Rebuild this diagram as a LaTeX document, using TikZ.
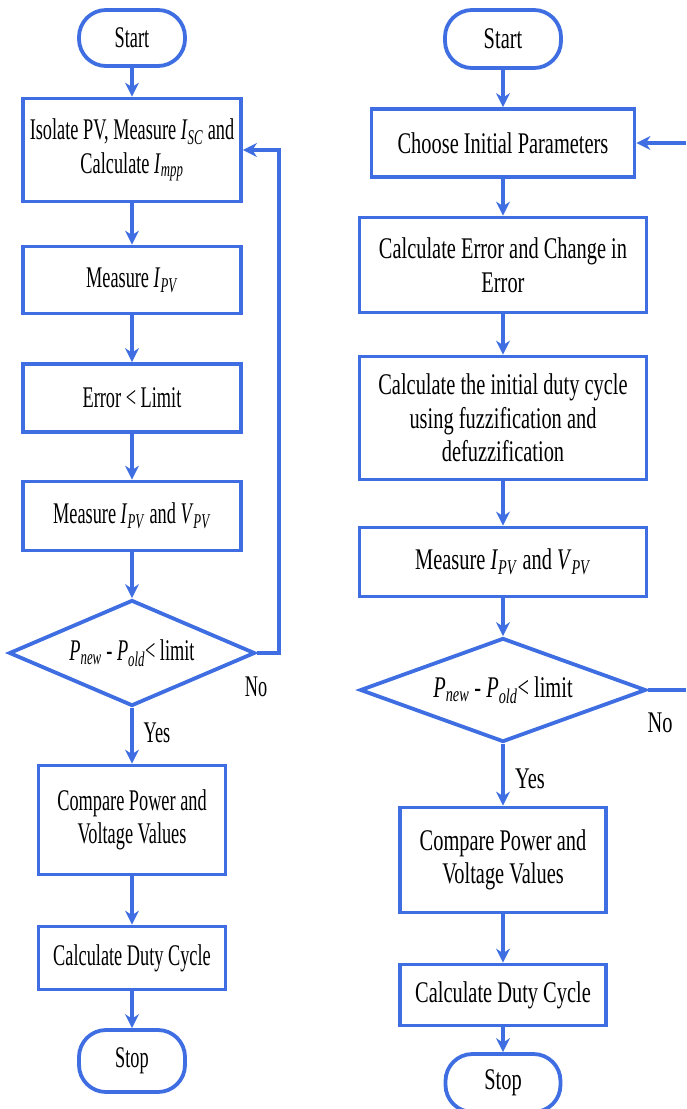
\documentclass[tikz,border=0pt]{standalone}
\usepackage{fontspec}
\setmainfont{Liberation Serif}[FakeStretch=0.68]
\newfontfamily\narrowfont{Liberation Serif}[FakeStretch=0.61]
\usetikzlibrary{shapes.geometric,arrows.meta}
\definecolor{flowblue}{RGB}{62,110,225}
\newcommand{\vsub}[2]{\textit{#1}\textsubscript{\textit{#2}}}

\begin{document}
\begin{tikzpicture}  
  [x=1pt,y=-1pt,
   every node/.style={font=\fontsize{30}{33.5}\selectfont,inner sep=0pt,align=center},
   term/.style={draw=flowblue,line width=3.8pt,rectangle,rounded corners=27pt},
   box/.style={draw=flowblue,line width=3.8pt,rectangle},
   decision/.style={draw=flowblue,line width=3.8pt,diamond,aspect=2.3},
   flow/.style={draw=flowblue,line width=3.3pt,-{Stealth[length=14pt,width=14pt]}},
   line/.style={draw=flowblue,line width=3.3pt}]  

  \clip (0,0) rectangle (686,1109);

  % left chart
  \begin{scope}[every node/.append style={font=\narrowfont\fontsize{30}{33.5}\selectfont}]
  \node[term,minimum width=106pt,minimum height=56pt] (a1) at (132,38) {Start};  
  \node[box,minimum width=218pt,minimum height=103pt] (a2) at (132,150)
    {Isolate PV, Measure \vsub{I}{SC} and\\Calculate \vsub{I}{mpp}}; 
  \node[box,minimum width=218pt,minimum height=67pt] (a3) at (132,280) {Measure \vsub{I}{PV}};  
  \node[box,minimum width=218pt,minimum height=68pt] (a4) at (132,398) {Error < Limit};  
  \node[box,minimum width=218pt,minimum height=69pt] (a5) at (132,516)
    {Measure \vsub{I}{PV} and \vsub{V}{PV}};  
  \node[decision,minimum width=246pt,minimum height=106pt] (a6) at (132,653)
    {\vsub{P}{new} - \vsub{P}{old}< limit};  
  \node[box,minimum width=187pt,minimum height=109pt] (a7) at (132,820)
    {Compare Power and\\Voltage Values};  
  \node[box,minimum width=187pt,minimum height=63pt] (a8) at (132,958) {Calculate Duty Cycle};  
  \node[term,minimum width=106pt,minimum height=62pt] (a9) at (132,1061) {Stop};  
  \node (no1) at (256,687) {No};
  \node (yes1) at (157,733) {Yes};
  \end{scope}

  \draw[flow] (a1) -- (a2); 
  \draw[flow] (a2) -- (a3);  
  \draw[flow] (a3) -- (a4);  
  \draw[flow] (a4) -- (a5);  
  \draw[flow] (a5) -- (a6);  
  \draw[flow] (a6) -- (a7);
  \draw[flow] (a7) -- (a8);
  \draw[flow] (a8) -- (a9);
  \draw[flow] (a6.east) -- ++(22,0) |- (a2.east);

  % right chart
  \node[term,minimum width=116pt,minimum height=58pt] (b1) at (503,39) {Start};  
  \node[box,minimum width=263pt,minimum height=68pt] (b2) at (503,143) {Choose Initial Parameters}; 
  \node[box,minimum width=287pt,minimum height=95pt] (b3) at (503,265)
    {Calculate Error and Change in\\Error};  
  \node[box,minimum width=287pt,minimum height=123pt] (b4) at (503,418)
    {Calculate the initial duty cycle\\using fuzzification and\\defuzzification};  
  \node[box,minimum width=287pt,minimum height=69pt] (b5) at (503,562)
    {Measure \vsub{I}{PV} and \vsub{V}{PV}};  
  \node[decision,minimum width=286pt,minimum height=104pt] (b6) at (503,690)
    {\vsub{P}{new} - \vsub{P}{old}< limit};  
  \node[box,minimum width=206pt,minimum height=105pt] (b7) at (503,860)
    {Compare Power and\\Voltage Values};  
  \node[box,minimum width=206pt,minimum height=61pt] (b8) at (503,995) {Calculate Duty Cycle};  
  \node[term,minimum width=115pt,minimum height=58pt] (b9) at (503,1083) {Stop};  
  \node (no2) at (660,723) {No};
  \node (yes2) at (530,779) {Yes};
  \coordinate (bin) at (686,143);
  \coordinate (bout) at (686,690);

  \draw[flow] (b1) -- (b2); 
  \draw[flow] (b2) -- (b3);  
  \draw[flow] (b3) -- (b4);  
  \draw[flow] (b4) -- (b5);  
  \draw[flow] (b5) -- (b6);  
  \draw[flow] (b6) -- (b7);
  \draw[flow] (b7) -- (b8);
  \draw[flow] (b8) -- (b9);
  \draw[flow] (bin) -- (b2.east);
  \draw[line] (b6.east) -- (bout);

\end{tikzpicture}
\end{document}
